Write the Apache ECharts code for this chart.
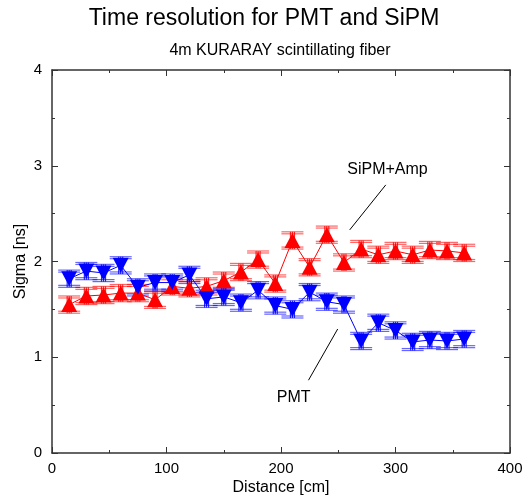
<!DOCTYPE html>
<html><head><meta charset="utf-8">
<script src="https://cdn.jsdelivr.net/npm/echarts@6/dist/echarts.min.js"></script>
<style>html,body{margin:0;padding:0;background:#fff}#c{width:524px;height:496px}</style>
</head><body><div id="c"></div>
<script>
const distances = [15,30,45,60,75,90,105,120,135,150,165,180,195,210,225,240,255,270,285,300,315,330,345,360];
const sipmSigma = [1.55,1.64,1.65,1.67,1.67,1.60,1.74,1.72,1.74,1.80,1.89,2.02,1.77,2.22,1.94,2.28,1.99,2.13,2.07,2.11,2.07,2.12,2.11,2.09];
const pmtSigma  = [1.82,1.90,1.88,1.96,1.73,1.78,1.78,1.86,1.61,1.63,1.57,1.70,1.54,1.50,1.68,1.58,1.55,1.17,1.36,1.28,1.16,1.18,1.17,1.19];
const sipmErr = [0.09,0.09,0.09,0.09,0.09,0.09,0.09,0.09,0.09,0.09,0.09,0.09,0.09,0.09,0.09,0.09,0.09,0.09,0.09,0.09,0.09,0.09,0.09,0.09];
const pmtErr  = [0.09,0.09,0.09,0.09,0.09,0.09,0.09,0.09,0.09,0.09,0.09,0.09,0.09,0.09,0.09,0.09,0.09,0.09,0.09,0.09,0.09,0.09,0.09,0.09];
const xTicks = [0,100,200,300,400];
const yTicks = [0,1,2,3,4];
const titleText = 'Time resolution for PMT and SiPM';
const subtitleText = '4m KURARAY scintillating fiber';
const annSipm = {label:'SiPM+Amp', text:[293,2.96], line:[[291.5,2.80],[260,2.33]]};
const annPmt  = {label:'PMT', text:[211,0.575], line:[[249.5,1.295],[224,0.76]]};

const FONT = 'Liberation Sans, Arial, Helvetica, sans-serif';
const chart = echarts.init(document.getElementById('c'), null, {renderer:'canvas'});

function errData(xs, ys, es){ return xs.map((x,i)=>[x, ys[i], es[i]]); }
function errSeries(name, color, data){
  return {
    type:'custom', name, data, z:2, silent:true,
    encode:{x:0,y:1},
    renderItem(params, api){
      const x = api.value(0), y = api.value(1), e = api.value(2);
      const top = api.coord([x, y+e]), bot = api.coord([x, y-e]);
      const cx = top[0], w = 11;
      const children = [];
      [-2,0,2].forEach(o=>children.push({type:'line', shape:{x1:cx+o,y1:top[1],x2:cx+o,y2:bot[1]}, style:{stroke:color, lineWidth:1.2, opacity:0.85}}));
      [0,2].forEach(o=>{
        children.push({type:'line', shape:{x1:cx-w,y1:top[1]+o,x2:cx+w,y2:top[1]+o}, style:{stroke:color, lineWidth:1.2, opacity:0.6}});
        children.push({type:'line', shape:{x1:cx-w,y1:bot[1]-o,x2:cx+w,y2:bot[1]-o}, style:{stroke:color, lineWidth:1.2, opacity:0.6}});
      });
      return {type:'group', children};
    }
  };
}
function annLine(a){
  return {type:'line', data:[], z:1, silent:true, markLine:{symbol:'none', silent:true, animation:false,
    lineStyle:{color:'#000', width:1, type:'solid'}, label:{show:false},
    data:[[{coord:a.line[0]},{coord:a.line[1]}]]}};
}
const axisCommon = {
  min:0, axisLine:{show:true, onZero:false, lineStyle:{color:'#333', width:1.5}},
  axisTick:{show:true, inside:true, length:6, lineStyle:{color:'#333', width:1}},
  minorTick:{show:true, splitNumber:2, length:3, lineStyle:{color:'#333', width:1}},
  splitLine:{show:false}, minorSplitLine:{show:false}
};
const option = {
  animation:false,
  backgroundColor:'#fff',
  textStyle:{fontFamily:FONT},
  grid:{left:52, right:14, top:70, bottom:43, containLabel:false, outerBoundsMode:'none'},
  xAxis:[
    Object.assign({}, axisCommon, {type:'value', position:'bottom', max:400, interval:100,
      axisLabel:{show:true, fontSize:15, color:'#000', margin:8, fontFamily:FONT, customValues:xTicks},
      name:'Distance [cm]', nameLocation:'middle', nameGap:27, nameMoveOverlap:false, nameTextStyle:{fontSize:16, color:'#000', fontFamily:FONT}}),
    Object.assign({}, axisCommon, {type:'value', position:'top', max:400, interval:100, axisLabel:{show:false}})
  ],
  yAxis:[
    Object.assign({}, axisCommon, {type:'value', position:'left', max:4, interval:1,
      axisLabel:{show:true, fontSize:15, color:'#000', margin:10, fontFamily:FONT},
      name:'Sigma [ns]', nameLocation:'middle', nameGap:23, nameMoveOverlap:false, nameRotate:90, nameTextStyle:{fontSize:16, color:'#000', fontFamily:FONT}}),
    Object.assign({}, axisCommon, {type:'value', position:'right', max:4, interval:1, axisLabel:{show:false}})
  ],
  series:[
    errSeries('sipmErr', '#ff0000', errData(distances, sipmSigma, sipmErr)),
    errSeries('pmtErr', '#0000ff', errData(distances, pmtSigma, pmtErr)),
    {type:'line', name:'SiPM+Amp', data:distances.map((x,i)=>[x, sipmSigma[i]]), z:3,
     lineStyle:{color:'#ff0000', width:1}, itemStyle:{color:'#ff0000'},
     symbol:'triangle', symbolSize:[16,15], showAllSymbol:true},
    {type:'line', name:'PMT', data:distances.map((x,i)=>[x, pmtSigma[i]]), z:3,
     lineStyle:{color:'#0000ff', width:1}, itemStyle:{color:'#0000ff'},
     symbol:'triangle', symbolRotate:180, symbolSize:[16,15], showAllSymbol:true},
    annLine(annSipm), annLine(annPmt)
  ]
};
chart.setOption(option);
function txt(a, size){
  const p = chart.convertToPixel({xAxisIndex:0, yAxisIndex:0}, a.text);
  return {type:'text', x:p[0], y:p[1], silent:true,
    style:{text:a.label, font:size+'px '+FONT, fill:'#000', align:'center', verticalAlign:'middle'}};
}
chart.setOption({graphic:[
  {type:'text', x:264, y:19, style:{text:titleText, font:'23px '+FONT, fill:'#000', align:'center', verticalAlign:'middle'}},
  {type:'text', x:280, y:51, style:{text:subtitleText, font:'16px '+FONT, fill:'#000', align:'center', verticalAlign:'middle'}},
  txt(annSipm, 16), txt(annPmt, 16)
]});
</script></body></html>
